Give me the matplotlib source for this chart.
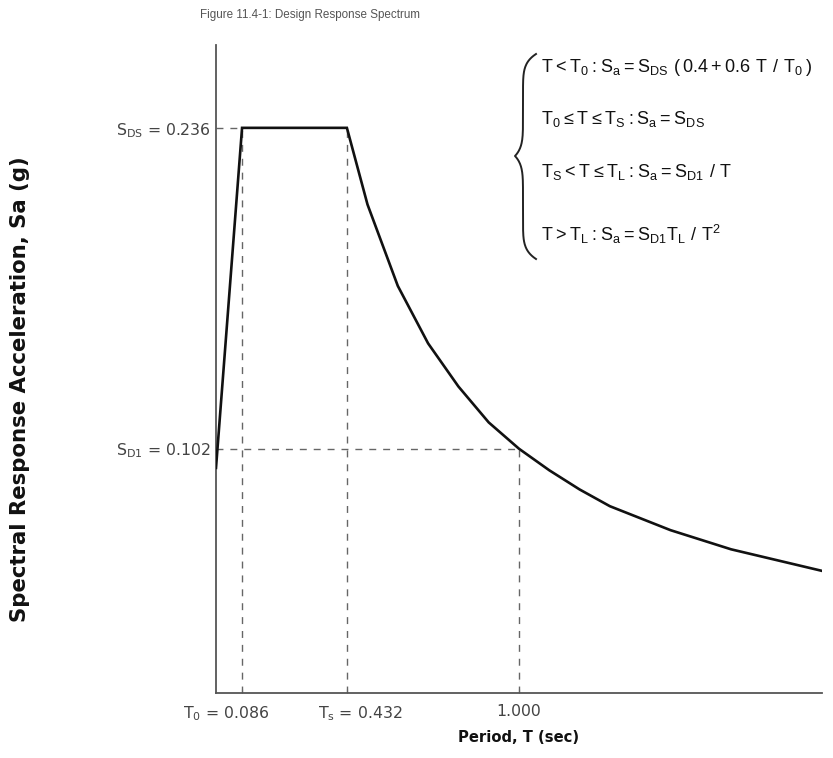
import numpy as np
import matplotlib
matplotlib.use("Agg")
import matplotlib.pyplot as plt
from matplotlib.lines import Line2D
from matplotlib import font_manager
from matplotlib.transforms import ScaledTranslation

# design values
SDS = 0.236
SD1 = 0.102
T0 = 0.086
TS = 0.432

# spectrum points
period = [0.0, 0.086, 0.432, 0.5, 0.6, 0.7, 0.8, 0.9, 1.0, 1.1, 1.2, 1.3, 1.4,
          1.5, 1.6, 1.7, 1.8, 1.9, 2.0]
sa = [0.094, 0.236, 0.236, 0.204, 0.170, 0.146, 0.128, 0.113, 0.102, 0.093,
      0.085, 0.078, 0.073, 0.068, 0.064, 0.060, 0.057, 0.054, 0.051]

x_ticks = [T0, TS, 1.0]
x_labels = [r'T$_\mathregular{0}$ = 0.086', r'T$_\mathregular{s}$ = 0.432', '1.000']
y_ticks = [SD1, SDS]
y_labels = [r'S$_\mathregular{D1}$ = 0.102', r'S$_\mathregular{DS}$ = 0.236']

rules = [
    r'$\mathregular{T < T_0 : S_a = S_{DS}\ (\,0.4 + 0.6\ T\ /\ T_0\,)}$',
    r'$\mathregular{T_0 \leq T \leq T_S : S_a = S_{DS}}$',
    r'$\mathregular{T_S < T \leq T_L : S_a = S_{D1}\ /\ T}$',
    r'$\mathregular{T > T_L : S_a = S_{D1}T_L\ /\ T^2}$',
]

W, H = 833, 758
have = {f.name for f in font_manager.fontManager.ttflist}
has_narrow = 'Liberation Sans Narrow' in have
narrow = ['DejaVu Sans Condensed', 'DejaVu Sans']
title_font = ['Liberation Sans Narrow'] if has_narrow else ['Liberation Sans']
title_size = 10.5 if has_narrow else 8.4
formula_font = ['Liberation Sans Narrow', 'Liberation Sans', 'DejaVu Sans']

fig = plt.figure(figsize=(W / 100, H / 100), dpi=100)
ax = fig.add_axes([216 / W, 1 - 693 / H, 606 / W, 648 / H])

ax.plot(period, sa, color='#111111', lw=1.9, solid_joinstyle='miter', zorder=3)

dash = dict(color='#666666', lw=1.0, ls=(0, (5, 5)), zorder=2)
ax.plot([0, T0], [SDS, SDS], **dash)
ax.plot([0, 1.0], [SD1, SD1], **dash)
ax.plot([T0, T0], [0, SDS], **dash)
ax.plot([TS, TS], [0, SDS], **dash)
ax.plot([1.0, 1.0], [0, SD1], **dash)

ax.set_xlim(0, 2.0)
ax.set_ylim(0, 0.2706)
for s in ['top', 'right']:
    ax.spines[s].set_visible(False)
for s in ['left', 'bottom']:
    ax.spines[s].set_color('#555555')
    ax.spines[s].set_linewidth(1.3)

ax.set_xticks(x_ticks)
ax.set_xticklabels(x_labels, family=narrow, fontsize=11.3, color='#444444')
ax.set_yticks(y_ticks)
ax.set_yticklabels(y_labels, family=narrow, fontsize=11.3, color='#444444')
ax.tick_params(axis='x', length=3, direction='in', pad=8, color='#666666')
ax.tick_params(axis='y', length=0, pad=4)

# nudge the crowded period labels apart
shifts = [-16, 13, 0]
for lab, dx in zip(ax.get_xticklabels(), shifts):
    lab.set_transform(lab.get_transform() + ScaledTranslation(dx / 100, 0, fig.dpi_scale_trans))

fig.text(519 / W, 1 - 737 / H, 'Period, T (sec)', ha='center', va='center',
         fontsize=10.6, fontweight='bold', color='#111111')
fig.text(20 / W, 1 - 389 / H, 'Spectral Response Acceleration, Sa (g)',
         ha='center', va='center', rotation=90, fontsize=15.3,
         fontweight='bold', color='#111111')
fig.text(310 / W, 1 - 15 / H, 'Figure 11.4-1: Design Response Spectrum',
         ha='center', va='center', fontsize=title_size, family=title_font,
         color='#555555')

# formula block
rule_y = [68, 119, 172, 234]
for txt, yy in zip(rules, rule_y):
    fig.text(541 / W, 1 - yy / H, txt, ha='left', va='center', fontsize=13,
             family=formula_font, color='#111111')

# curly brace on the left of the formula block
top, bot, mid = 54, 259, 156
xr, xl, xc = 536, 523, 515
bx, by = [], []
for a, b in [(top, mid), (mid, bot)]:
    s = np.linspace(0, 1, 120)
    yy = a + (b - a) * s
    if a == top:
        xx = np.where(s < 0.5, xl + (xr - xl) * (1 - 2 * s) ** 6,
                      xl - (xl - xc) * (2 * s - 1) ** 6)
    else:
        xx = np.where(s < 0.5, xl - (xl - xc) * (1 - 2 * s) ** 6,
                      xl + (xr - xl) * (2 * s - 1) ** 6)
    bx.extend(xx)
    by.extend(yy)
bx = np.array(bx) / W
by = 1 - np.array(by) / H
fig.add_artist(Line2D(bx, by, color='#222222', lw=1.4, transform=fig.transFigure))

fig.savefig('out.png', dpi=100, facecolor='white')
